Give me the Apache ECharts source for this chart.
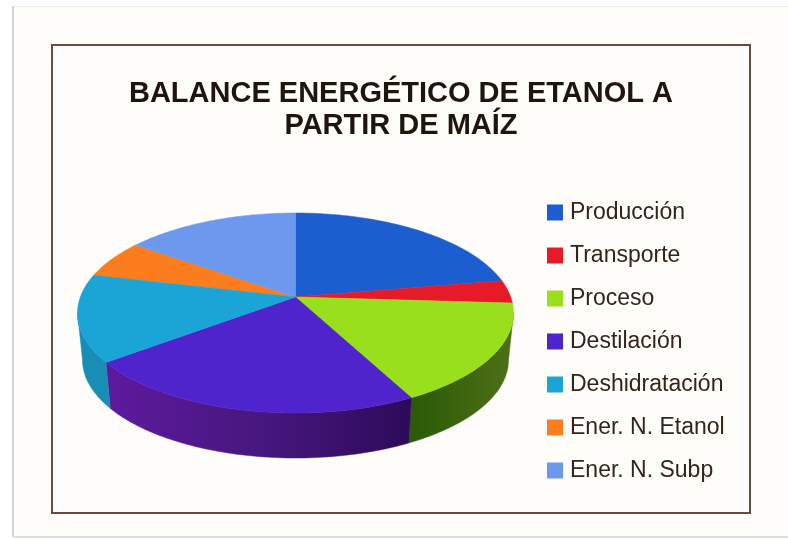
<!DOCTYPE html>
<html><head><meta charset="utf-8">
<style>html,body{margin:0;padding:0;background:#fff}#c{width:788px;height:539px;filter:blur(0.5px)}</style>
<script src="https://cdn.jsdelivr.net/npm/echarts@6/dist/echarts.min.js"></script>
</head><body><div id="c"></div>
<script>
var categories = ['Producción','Transporte','Proceso','Destilación','Deshidratación','Ener. N. Etanol','Ener. N. Subp'];
var values = [22.3, 3.7, 16.4, 22.3, 14.1, 6.2, 15.1];
var colors = ['#1c5dd0','#e61a28','#9adf1c','#5024cc','#1aa5d6','#fb7d1e','#6c98ee'];
var titleText = 'BALANCE ENERGÉTICO DE ETANOL A\nPARTIR DE MAÍZ';

var chart = echarts.init(document.getElementById('c'), null, {renderer:'canvas'});
var total = values.reduce(function(a,b){return a+b;},0);
// perspective projection of the pie disc
var P = {ax:295.5, ay:297, a:97.44, b:215.2, k:0.16, ex:295.5, ey:313, bx:0.977, bcy:360, by:0.98};
function topRim(theta){
  var u=Math.sin(theta), v=Math.cos(theta), w=1+P.k*v;
  return [P.ax+P.b*u/w, P.ay-P.a*v/w];
}
function botRim(theta){
  var p=topRim(theta);
  return [P.ex+(p[0]-P.ex)*P.bx, P.bcy+(p[1]-P.ey)*P.by];
}
function arc(fn,a,b){
  var n=Math.max(2,Math.ceil((b-a)/0.02)), out=[];
  for(var i=0;i<=n;i++) out.push(fn(a+(b-a)*i/n));
  return out;
}
var visA=Math.acos(-P.k), visB=2*Math.PI-visA;
var sideFills = {
  2:new echarts.graphic.LinearGradient(413,0,513,0,[{offset:0,color:'#2b5a08'},{offset:1,color:'#4e7016'}],true),
  3:new echarts.graphic.LinearGradient(105,0,413,0,[{offset:0,color:'#5e1a9e'},{offset:0.5,color:'#47177f'},{offset:1,color:'#2d0a58'}],true),
  4:'#1a8db6'
};
function renderSlice(idx){
  return function(params,api){
    var a=api.value(0)/total*2*Math.PI, b=api.value(1)/total*2*Math.PI;
    var kids=[];
    var s=Math.max(a,visA), e=Math.min(b,visB);
    if(e>s){
      var pts=arc(topRim,s,e).concat(arc(botRim,s,e).reverse());
      var f=sideFills[idx]||colors[idx];
      kids.push({type:'polygon',shape:{points:pts},style:{fill:f,stroke:f,lineWidth:0.5}});
    }
    var tp=[[P.ax,P.ay]].concat(arc(topRim,a,b));
    kids.push({type:'polygon',z2:10,shape:{points:tp},style:{fill:colors[idx],stroke:colors[idx],lineWidth:0.5}});
    return {type:'group',children:kids};
  };
}
var cum=0;
var series=categories.map(function(n,i){
  var s=cum; cum+=values[i];
  return {type:'custom',name:n,coordinateSystem:'none',renderItem:renderSlice(i),
    data:[[s,cum]],itemStyle:{color:colors[i]},silent:true,
    z:(i===2||i===3||i===4)?3:2,encode:{}};
});
chart.setOption({
  animation:false,
  backgroundColor:'#ffffff',
  title:{text:titleText,left:396,top:73,textAlign:'center',
    textStyle:{fontFamily:'Liberation Sans',fontWeight:'bold',fontSize:29,lineHeight:32,color:'#20140e'}},
  legend:{orient:'vertical',left:547,top:200,padding:0,itemWidth:16,itemHeight:16,itemGap:18,selectedMode:false,
    icon:'rect',data:categories,
    textStyle:{fontFamily:'Liberation Sans',fontSize:23,lineHeight:23,color:'#33241c',padding:[2,0,0,2]}},
  graphic:[
    {type:'rect',silent:true,z:-10,shape:{x:13,y:6,width:775,height:531},style:{fill:'#fffdf9'}},
    {type:'rect',silent:true,z:-9,shape:{x:12,y:6,width:2,height:531},style:{fill:'#d4d4d4'}},
    {type:'rect',silent:true,z:-9,shape:{x:14,y:6,width:774,height:1},style:{fill:'#ededed'}},
    {type:'rect',silent:true,z:-9,shape:{x:14,y:536,width:774,height:2},style:{fill:'#dedede'}},
    {type:'rect',silent:true,z:-8,shape:{x:52,y:45,width:698,height:468},style:{fill:'#fffdf9',stroke:'#6e4a3e',lineWidth:2}}
  ],
  series:series
});
</script></body></html>
